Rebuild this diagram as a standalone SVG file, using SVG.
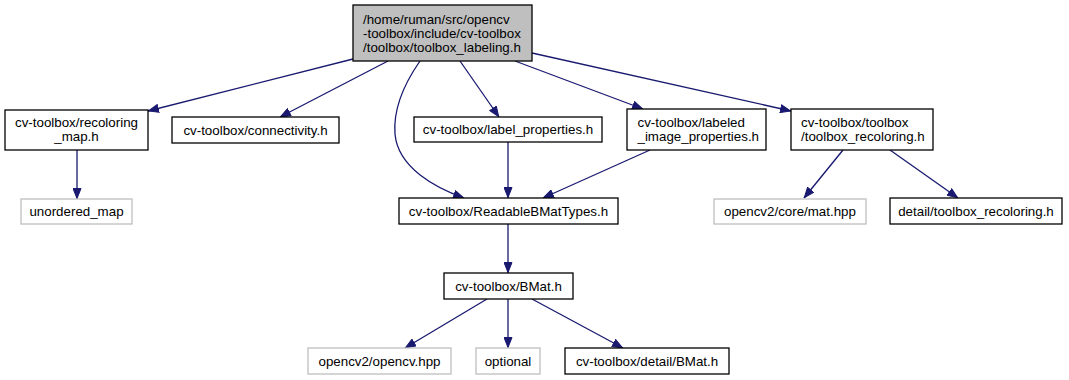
<svg xmlns="http://www.w3.org/2000/svg" width="1069" height="380" viewBox="0 0 1069 380">
  <style>
    .box { fill: #ffffff; stroke: #000000; stroke-width: 1.3; }
    .sys { fill: #ffffff; stroke: #bfbfbf; stroke-width: 1.3; }
    .root { fill: #bfbfbf; stroke: #000000; stroke-width: 1.3; }
    text { font-family: "Liberation Sans", Arial, sans-serif; font-size: 13.33px; fill: #000000; }
    .c { text-anchor: middle; }
    .edge { fill: none; stroke: #191970; stroke-width: 1.3; marker-end: url(#arrow); }
  </style>
  <defs>
    <marker id="arrow" viewBox="0 0 11 9" refX="11" refY="4.5" markerWidth="11" markerHeight="9" markerUnits="userSpaceOnUse" orient="auto">
      <path d="M0.5,0.5 L10.5,4.5 L0.5,8.5 z" fill="#191970" stroke="#191970" stroke-width="1"/>
    </marker>
  </defs>
  <rect width="1069" height="380" fill="#ffffff"/>

  <g id="edges">
    <path class="edge" d="M353,59 L148,111"/>
    <path class="edge" d="M388,61 L280,117"/>
    <path class="edge" d="M420,61 C404,84 393,108 395,134 C398,168 436,188 464,198"/>
    <path class="edge" d="M460,61 L499,117"/>
    <path class="edge" d="M515,61 L643,109"/>
    <path class="edge" d="M532,53 L791,111"/>
    <path class="edge" d="M77,150 L77,199"/>
    <path class="edge" d="M508,142 L508,198"/>
    <path class="edge" d="M650,150 L543,198"/>
    <path class="edge" d="M843,150 L804,198"/>
    <path class="edge" d="M890,150 L958,198"/>
    <path class="edge" d="M508,224 L508,273"/>
    <path class="edge" d="M487,299 L405,348"/>
    <path class="edge" d="M508,299 L508,348"/>
    <path class="edge" d="M532,299 L623,348"/>
  </g>

  <g id="node-root">
    <rect class="root" x="353" y="5" width="179" height="56"/>
    <text x="363" y="23.5">/home/ruman/src/opencv</text>
    <text x="363" y="37.5">-toolbox/include/cv-toolbox</text>
    <text x="363" y="51.5">/toolbox/toolbox_labeling.h</text>
  </g>

  <g id="node-recoloring-map">
    <rect class="box" x="5" y="110" width="143" height="40"/>
    <text class="c" x="76.5" y="127">cv-toolbox/recoloring</text>
    <text class="c" x="76.5" y="141">_map.h</text>
  </g>

  <g id="node-connectivity">
    <rect class="box" x="172" y="117" width="167" height="26"/>
    <text class="c" x="255.5" y="134.5">cv-toolbox/connectivity.h</text>
  </g>

  <g id="node-label-properties">
    <rect class="box" x="414" y="117" width="188" height="25"/>
    <text class="c" x="508" y="134">cv-toolbox/label_properties.h</text>
  </g>

  <g id="node-labeled-image-properties">
    <rect class="box" x="627" y="109" width="139" height="41"/>
    <text x="637.5" y="127">cv-toolbox/labeled</text>
    <text x="637.5" y="141">_image_properties.h</text>
  </g>

  <g id="node-toolbox-recoloring">
    <rect class="box" x="791" y="109" width="142" height="41"/>
    <text x="801" y="127">cv-toolbox/toolbox</text>
    <text x="801" y="141">/toolbox_recoloring.h</text>
  </g>

  <g id="node-unordered-map">
    <rect class="sys" x="21" y="199" width="111" height="25"/>
    <text class="c" x="76.5" y="216">unordered_map</text>
  </g>

  <g id="node-readable-bmat-types">
    <rect class="box" x="399" y="198" width="219" height="26"/>
    <text class="c" x="508.5" y="215.5">cv-toolbox/ReadableBMatTypes.h</text>
  </g>

  <g id="node-mat-hpp">
    <rect class="sys" x="714" y="199" width="152" height="25"/>
    <text class="c" x="790" y="216">opencv2/core/mat.hpp</text>
  </g>

  <g id="node-detail-toolbox-recoloring">
    <rect class="box" x="890" y="198" width="172" height="26"/>
    <text class="c" x="976" y="215.5">detail/toolbox_recoloring.h</text>
  </g>

  <g id="node-bmat">
    <rect class="box" x="444" y="273" width="129" height="26"/>
    <text class="c" x="508.5" y="290.5">cv-toolbox/BMat.h</text>
  </g>

  <g id="node-opencv-hpp">
    <rect class="sys" x="308" y="348" width="143" height="26"/>
    <text class="c" x="379.5" y="365.5">opencv2/opencv.hpp</text>
  </g>

  <g id="node-optional">
    <rect class="sys" x="476" y="348" width="64" height="26"/>
    <text class="c" x="508" y="365.5">optional</text>
  </g>

  <g id="node-detail-bmat">
    <rect class="box" x="565" y="348" width="164" height="26"/>
    <text class="c" x="647" y="365.5">cv-toolbox/detail/BMat.h</text>
  </g>
</svg>
